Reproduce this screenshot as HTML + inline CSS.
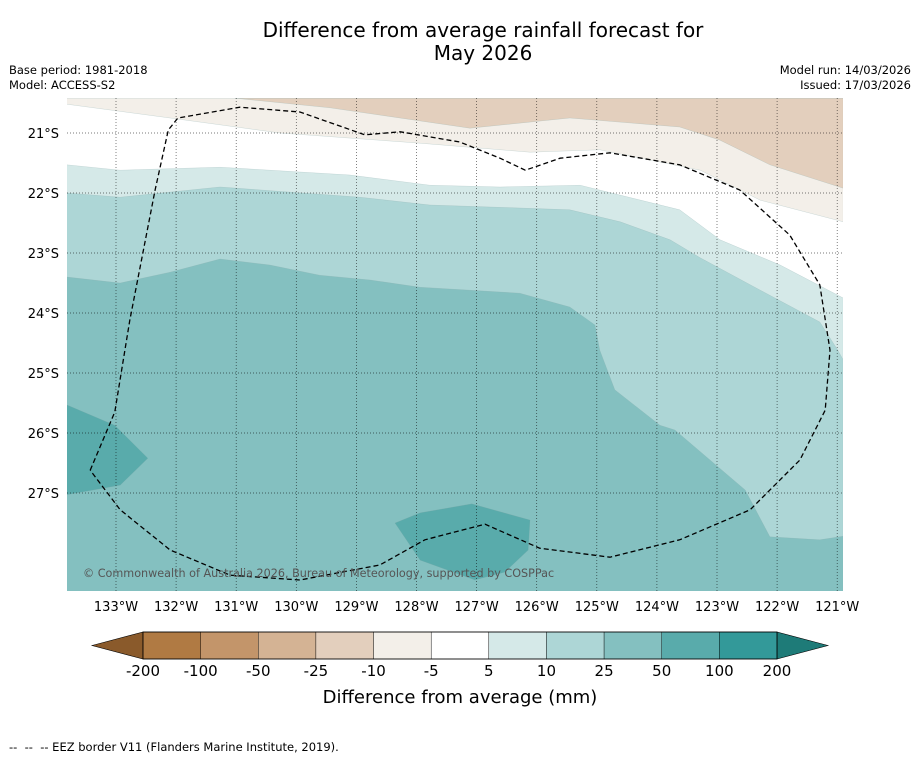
<!DOCTYPE html>
<html><head><meta charset="utf-8">
<style>
body{margin:0;background:#fff;font-family:"Liberation Sans","DejaVu Sans",sans-serif;}
#wrap{position:relative;width:919px;height:758px;overflow:hidden;background:#fff;}
.t{position:absolute;color:#000;white-space:nowrap;}
</style></head>
<body>
<div id="wrap">
<div class="t" style="left:0;width:966px;top:19px;text-align:center;font-size:20px;line-height:23px;font-family:'DejaVu Sans',sans-serif;">Difference from average rainfall forecast for<br>May 2026</div>
<div class="t" style="left:9px;top:63px;font-size:11.5px;line-height:15px;font-family:'DejaVu Sans',sans-serif;">Base period: 1981-2018<br>Model: ACCESS-S2</div>
<div class="t" style="right:8px;top:63px;font-size:11.5px;line-height:15px;text-align:right;font-family:'DejaVu Sans',sans-serif;">Model run: 14/03/2026<br>Issued: 17/03/2026</div>
<div class="t" style="left:9px;top:740px;font-size:11.5px;font-family:'DejaVu Sans',sans-serif;">--&nbsp; --&nbsp; -- EEZ border V11 (Flanders Marine Institute, 2019).</div>
<svg id="svg" width="919" height="758" style="position:absolute;left:0;top:0" font-family="DejaVu Sans, Liberation Sans, sans-serif"></svg>
</div>
<script>
const lonTicks=[-133,-132,-131,-130,-129,-128,-127,-126,-125,-124,-123,-122,-121];
const latTicks=[-21,-22,-23,-24,-25,-26,-27];
const cbLabels=["-200","-100","-50","-25","-10","-5","5","10","25","50","100","200"];
const cbColors=["#b07a43","#c3956a","#d4b394","#e3cfbd","#f3efe9","#ffffff","#d5e9e8","#add6d6","#84c0c0","#59abab","#339999"];
const beige2=[[-131.02,-20.42],[-129.44,-20.58],[-127.11,-20.92],[-125.45,-20.75],[-123.62,-20.9],[-122.95,-21.12],[-122.12,-21.53],[-120.9,-21.92],[-120.9,-20.42]];
const beige1=[[-133.82,-20.42],[-133.82,-20.52],[-132.10,-20.75],[-130.27,-21.0],[-127.94,-21.17],[-126.11,-21.32],[-124.95,-21.28],[-123.28,-21.62],[-122.28,-22.12],[-120.9,-22.48],[-120.9,-20.42]];
const teal1=[[-133.82,-21.53],[-132.93,-21.62],[-131.27,-21.57],[-129.11,-21.70],[-127.78,-21.87],[-126.61,-21.9],[-125.28,-21.87],[-123.62,-22.28],[-122.95,-22.78],[-121.95,-23.2],[-120.9,-23.75],[-120.9,-28.65],[-133.82,-28.65]];
const teal2=[[-133.82,-22.0],[-132.93,-22.07],[-131.27,-21.9],[-128.94,-22.07],[-127.78,-22.2],[-126.28,-22.25],[-125.45,-22.28],[-124.61,-22.48],[-123.78,-22.78],[-123.28,-23.08],[-122.28,-23.62],[-121.29,-24.15],[-120.99,-24.62],[-120.9,-24.78],[-120.9,-28.65],[-133.82,-28.65]];
const teal3=[[-133.82,-23.4],[-132.93,-23.5],[-132.10,-23.32],[-131.27,-23.1],[-130.44,-23.2],[-129.61,-23.37],[-128.77,-23.45],[-127.94,-23.57],[-126.28,-23.67],[-125.45,-23.9],[-125.03,-24.2],[-124.95,-24.62],[-124.70,-25.28],[-123.95,-25.87],[-123.70,-25.95],[-122.53,-26.95],[-122.12,-27.73],[-121.29,-27.78],[-120.9,-27.72],[-120.9,-28.65],[-133.82,-28.65]];
const teal4a=[[-133.82,-25.53],[-133.02,-25.87],[-132.47,-26.42],[-132.93,-26.87],[-133.82,-27.03]];
const teal4b=[[-128.36,-27.5],[-127.94,-27.33],[-127.08,-27.18],[-126.11,-27.45],[-126.14,-27.95],[-126.53,-28.32],[-127.03,-28.45],[-127.94,-28.12]];
const eez=[[-133.43,-26.62],[-133.02,-25.65],[-132.77,-24.12],[-132.35,-21.95],[-132.13,-20.95],[-131.97,-20.75],[-130.94,-20.57],[-129.94,-20.65],[-128.86,-21.03],[-128.27,-20.98],[-127.28,-21.15],[-126.61,-21.42],[-126.19,-21.62],[-125.61,-21.42],[-124.78,-21.33],[-123.62,-21.53],[-122.62,-21.95],[-121.79,-22.7],[-121.29,-23.53],[-121.12,-24.62],[-121.20,-25.62],[-121.62,-26.45],[-122.45,-27.28],[-123.62,-27.78],[-124.78,-28.07],[-125.95,-27.92],[-126.86,-27.52],[-127.86,-27.78],[-128.61,-28.2],[-129.94,-28.45],[-131.10,-28.37],[-132.10,-27.95],[-132.93,-27.28],[-133.43,-26.62]];

const NS="http://www.w3.org/2000/svg";
const svg=document.getElementById('svg');
const X0=67,X1=843,Y0=98,Y1=591;
const xs=lon=>116+(lon+133)*60.1;
const ys=lat=>133+(-21-lat)*60;
function mk(tag,attrs,parent){const e=document.createElementNS(NS,tag);for(const k in attrs)e.setAttribute(k,attrs[k]);(parent||svg).appendChild(e);return e;}
const defs=mk('defs',{});
const cp=mk('clipPath',{id:'mapclip'},defs);
mk('rect',{x:X0,y:Y0,width:X1-X0,height:Y1-Y0},cp);
const g=mk('g',{'clip-path':'url(#mapclip)'});


const bg=mk('rect',{x:X0,y:Y0,width:X1-X0,height:Y1-Y0,fill:'#fff'},g);


function poly(pts,fill,name){const p=mk('polygon',{points:pts.map(q=>xs(q[0]).toFixed(1)+','+ys(q[1]).toFixed(1)).join(' '),fill:fill,stroke:'#8aa',"stroke-width":0.4,"stroke-opacity":0.5},g);

}
poly(beige1,cbColors[4],'contour-minus10-minus5');
poly(beige2,cbColors[3],'contour-minus25-minus10');
poly(teal1,cbColors[6],'contour-5-10');
poly(teal2,cbColors[7],'contour-10-25');
poly(teal3,cbColors[8],'contour-25-50');
poly(teal4a,cbColors[9],'contour-50-100-west');
poly(teal4b,cbColors[9],'contour-50-100-south');
lonTicks.forEach(l=>{const ln=mk('line',{x1:xs(l),x2:xs(l),y1:Y0,y2:Y1,stroke:'#000','stroke-width':0.7,'stroke-dasharray':'1,2','stroke-opacity':0.7},g);

});
latTicks.forEach(l=>{const ln=mk('line',{x1:X0,x2:X1,y1:ys(l),y2:ys(l),stroke:'#000','stroke-width':0.7,'stroke-dasharray':'1,2','stroke-opacity':0.7},g);

});
const ez=mk('polyline',{points:eez.map(q=>xs(q[0]).toFixed(1)+','+ys(q[1]).toFixed(1)).join(' '),fill:'none',stroke:'#000','stroke-width':1.3,'stroke-dasharray':'5,3'},g);


const cr=mk('text',{x:83,y:577,'font-size':11.2,fill:'#555'},g);
cr.textContent='© Commonwealth of Australia 2026, Bureau of Meteorology, supported by COSPPac';


lonTicks.forEach(l=>{const t=mk('text',{x:xs(l),y:611,'font-size':13,'text-anchor':'middle',fill:'#000'});t.textContent=Math.abs(l)+'°W';

});
latTicks.forEach(l=>{const t=mk('text',{x:59,y:ys(l)+5,'font-size':13,'text-anchor':'end',fill:'#000'});t.textContent=Math.abs(l)+'°S';

});
const CB0=143,CB1=777,CT=632,CBB=659,n=cbColors.length,w=(CB1-CB0)/n;
const lt=mk('polygon',{points:`92,${(CT+CBB)/2} ${CB0},${CT} ${CB0},${CBB}`,fill:'#8a5a2b',stroke:'#000','stroke-width':0.6});


const rt=mk('polygon',{points:`828,${(CT+CBB)/2} ${CB1},${CT} ${CB1},${CBB}`,fill:'#1e7b78',stroke:'#000','stroke-width':0.6});


cbColors.forEach((c,i)=>{const r=mk('rect',{x:CB0+i*w,y:CT,width:w,height:CBB-CT,fill:c,stroke:'#000','stroke-width':0.4});

});
mk('rect',{x:CB0,y:CT,width:CB1-CB0,height:CBB-CT,fill:'none',stroke:'#000','stroke-width':0.8});
cbLabels.forEach((s,i)=>{const t=mk('text',{x:CB0+i*w,y:676,'font-size':15,'text-anchor':'middle',fill:'#000'});t.textContent=s;

});
const ct=mk('text',{x:460,y:703,'font-size':18,'text-anchor':'middle',fill:'#000'});ct.textContent='Difference from average (mm)';


</script>
</body></html>
